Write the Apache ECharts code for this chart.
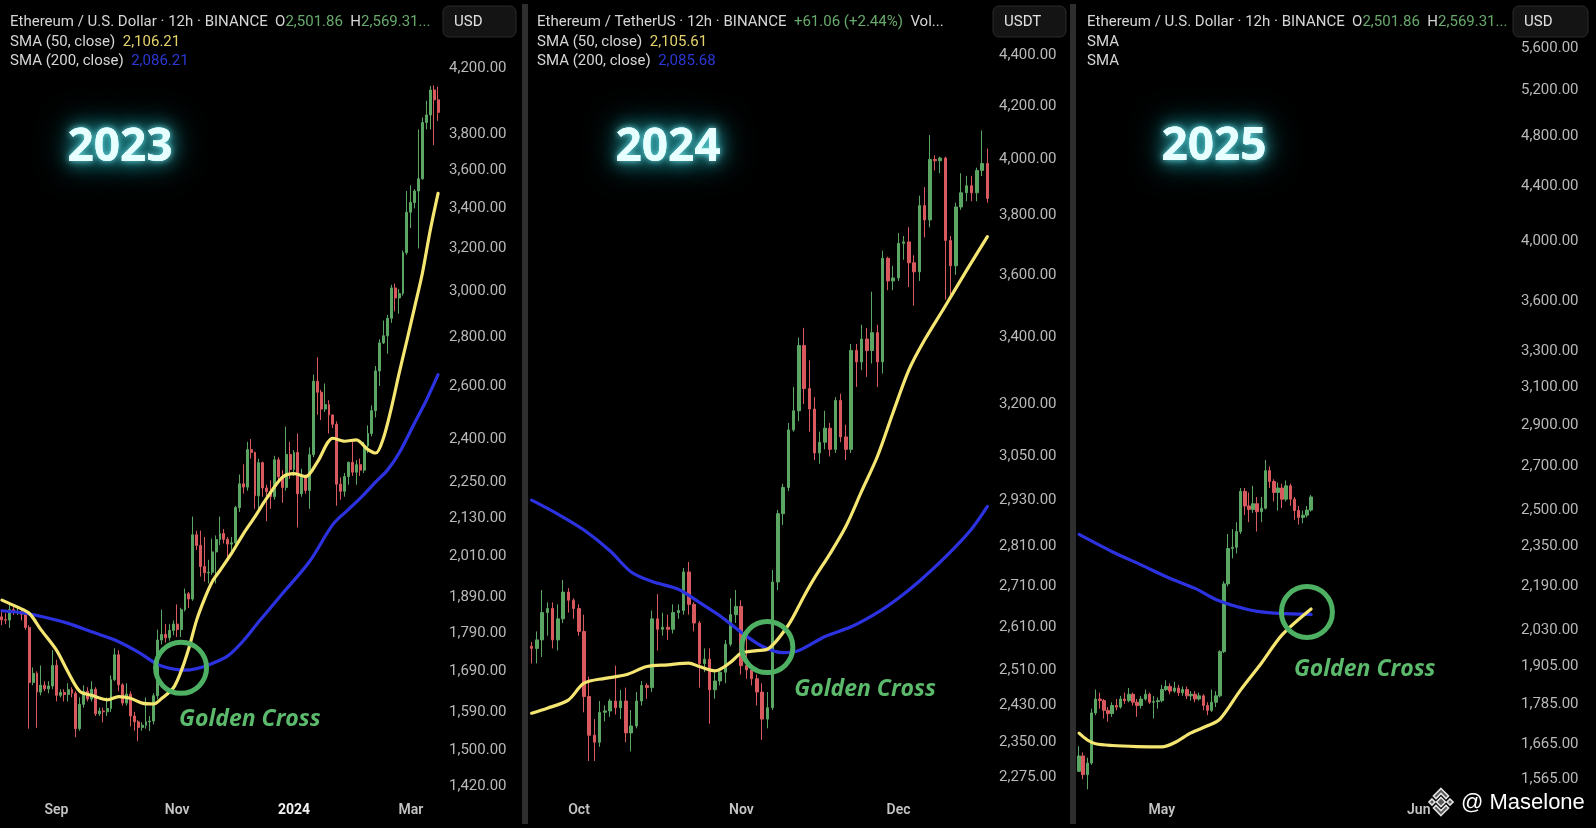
<!DOCTYPE html>
<html><head><meta charset="utf-8">
<script src="https://cdn.jsdelivr.net/npm/echarts@6/dist/echarts.min.js"></script>
<style>html,body{margin:0;padding:0;background:#000;}#c{width:1596px;height:828px;}</style>
</head><body><div id="c"></div>
<script>
// ---------- DATA ----------
// Panel 1 (2023-24): 2-day candles from 2023-08-03, [open, close, low, high]
const p1Start = '2023-08-03', p1StepH = 48, p1Count = 113;
const p1Candles = [
[1835,1827,1812,1855],[1827,1826,1815,1845],[1826,1855,1805,1870],[1855,1850,1840,1870],[1850,1850,1840,1860],
[1850,1842,1825,1860],[1842,1806,1800,1845],[1806,1662,1550,1812],[1662,1685,1655,1700],[1685,1638,1552,1690],
[1638,1655,1630,1705],[1655,1646,1640,1665],[1646,1653,1635,1665],[1653,1705,1645,1745],[1705,1630,1615,1720],
[1630,1637,1625,1645],[1637,1632,1615,1645],[1632,1644,1615,1660],[1644,1635,1625,1650],[1635,1550,1530,1640],
[1550,1608,1545,1625],[1608,1640,1600,1655],[1640,1621,1615,1650],[1621,1645,1615,1665],[1645,1585,1580,1650],
[1585,1592,1580,1600],[1592,1590,1565,1600],[1590,1598,1580,1625],[1598,1669,1590,1680],[1669,1733,1665,1750],
[1733,1656,1640,1745],[1656,1611,1605,1660],[1611,1633,1605,1660],[1633,1580,1555,1640],[1580,1566,1545,1590],
[1566,1553,1521,1570],[1553,1558,1545,1565],[1558,1566,1550,1625],[1566,1568,1545,1580],[1568,1629,1560,1635],
[1629,1772,1620,1800],[1772,1787,1760,1855],[1787,1778,1765,1815],[1778,1798,1770,1815],[1798,1815,1785,1825],
[1815,1800,1780,1870],[1800,1855,1780,1860],[1855,1900,1850,1915],[1900,1885,1860,1905],[1885,2077,1880,2135],
[2077,2044,2030,2090],[2044,1980,1950,2090],[1980,1961,1935,2070],[1961,1963,1930,2000],[1963,2024,1955,2065],
[2024,2062,1930,2075],[2062,2081,2045,2135],[2081,2063,2050,2095],[2063,2048,2000,2070],[2048,2052,2020,2070],
[2052,2164,2045,2170],[2164,2243,2150,2275],[2243,2232,2210,2310],[2232,2362,2220,2390],[2362,2352,2330,2400],
[2352,2203,2160,2355],[2203,2316,2150,2330],[2316,2229,2200,2320],[2229,2217,2120,2240],[2217,2200,2160,2255],
[2200,2326,2190,2340],[2326,2267,2250,2335],[2267,2231,2180,2290],[2231,2345,2220,2445],[2345,2292,2260,2390],
[2292,2352,2270,2360],[2352,2210,2100,2420],[2210,2268,2200,2295],[2268,2221,2210,2275],[2221,2344,2160,2370],
[2344,2619,2335,2645],[2619,2576,2490,2715],[2576,2511,2470,2585],[2511,2528,2500,2610],[2528,2489,2420,2545],
[2489,2454,2440,2490],[2454,2242,2170,2465],[2242,2218,2190,2265],[2218,2268,2200,2280],[2268,2317,2240,2320],
[2317,2283,2270,2390],[2283,2309,2240,2325],[2309,2290,2270,2330],[2290,2375,2280,2390],[2375,2420,2350,2450],
[2420,2505,2410,2525],[2505,2660,2480,2680],[2660,2775,2600,2790],[2775,2805,2770,2870],[2805,2880,2730,2895],
[2880,3015,2860,3030],[3015,2970,2910,3035],[2970,2990,2900,3010],[2990,3180,2980,3190],[3180,3380,3170,3490],
[3380,3430,3300,3520],[3430,3490,3400,3500],[3490,3555,3200,3830],[3555,3870,3550,3900],[3870,3915,3830,4000],
[3915,4065,3830,4090],[4065,4005,3740,4093],[4005,3930,3880,4085]
];
const p1Sma50 = [[0,1882],[4,1862],[7,1845],[10,1800],[14,1745],[17,1688],[20,1640],[23,1630],[27,1619],[30,1627],[33,1623],[36,1611],[39,1609],[41,1622],[44,1648],[46,1690],[48,1750],[50,1826],[52,1885],[54,1935],[56,1968],[59,2020],[62,2080],[65,2135],[68,2195],[72,2265],[75,2278],[78,2268],[81,2318],[85,2403],[88,2392],[91,2397],[94,2362],[96,2350],[98,2405],[100,2515],[102,2650],[104,2785],[106,2930],[108,3085],[110,3290],[112,3478]];
const p1Sma200 = [[0,1852],[6,1845],[11,1834],[17,1817],[23,1794],[29,1772],[35,1740],[40,1708],[44,1696],[47,1693],[50,1697],[53,1706],[58,1730],[62,1770],[66,1822],[72,1900],[79,1995],[85,2110],[89,2158],[93,2208],[96,2250],[99,2290],[102,2350],[106,2460],[109,2545],[112,2645]];
const p1Cross = [46, 1699];
const p1YTicks = [4200,3800,3600,3400,3200,3000,2800,2600,2400,2250,2130,2010,1890,1790,1690,1590,1500,1420];
const p1XTicks = [['2023-08-31','Sep'],['2023-11-01','Nov'],['2023-12-31','2024'],['2024-02-29','Mar']];

// Panel 2 (2024): daily candles from 2024-09-21
const p2Start = '2024-09-21', p2StepH = 24, p2Count = 88;
const p2Candles = [
[2565,2560,2525,2575],[2560,2580,2525,2600],[2580,2645,2540,2700],[2645,2655,2590,2670],[2655,2580,2560,2670],
[2580,2630,2555,2665],[2630,2695,2620,2725],[2695,2675,2645,2705],[2675,2655,2630,2680],[2655,2600,2590,2665],
[2600,2450,2415,2640],[2450,2365,2310,2495],[2365,2350,2310,2400],[2350,2415,2340,2440],[2415,2418,2395,2430],
[2418,2440,2405,2445],[2440,2425,2410,2520],[2425,2440,2400,2465],[2440,2370,2350,2470],[2370,2385,2330,2420],
[2385,2440,2380,2460],[2440,2475,2430,2485],[2475,2470,2445,2480],[2470,2630,2460,2650],[2630,2605,2555,2690],
[2605,2610,2590,2645],[2610,2605,2580,2640],[2605,2645,2595,2665],[2645,2650,2630,2665],[2650,2745,2640,2755],
[2745,2665,2640,2770],[2665,2620,2600,2670],[2620,2525,2470,2625],[2525,2535,2505,2560],[2535,2465,2390,2560],
[2465,2485,2445,2505],[2485,2505,2475,2510],[2505,2570,2480,2580],[2570,2640,2565,2680],[2640,2660,2620,2700],
[2660,2520,2500,2675],[2520,2510,2490,2590],[2510,2490,2475,2520],[2490,2460,2430,2500],[2460,2400,2355,2480],
[2400,2425,2380,2460],[2425,2720,2420,2750],[2720,2895,2700,2905],[2895,2965,2865,2975],[2965,3125,2955,3145],
[3125,3180,3120,3250],[3180,3375,3150,3400],[3375,3245,3200,3430],[3245,3185,3120,3330],[3185,3060,3040,3220],
[3060,3090,3030,3120],[3090,3130,3070,3180],[3130,3070,3050,3145],[3070,3210,3060,3220],[3210,3105,3090,3230],
[3105,3070,3040,3140],[3070,3360,3060,3380],[3360,3325,3250,3380],[3325,3395,3300,3440],[3395,3360,3280,3430],
[3360,3415,3320,3545],[3415,3325,3250,3440],[3325,3655,3290,3680],[3655,3580,3550,3660],[3580,3590,3550,3630],
[3590,3705,3580,3740],[3705,3710,3650,3730],[3710,3640,3560,3760],[3640,3610,3500,3665],[3610,3835,3580,3870],
[3835,3785,3725,3900],[3785,4000,3760,4090],[4000,3995,3960,4015],[3995,4005,3950,4010],[4005,3715,3520,4010],
[3715,3630,3520,3730],[3630,3830,3600,3845],[3830,3880,3820,3950],[3880,3905,3850,3940],[3905,3880,3850,3940],
[3880,3960,3850,3970],[3960,3985,3940,4107],[3985,3860,3845,4040]
];
const p2Sma50 = [[0,2413],[3,2424],[7,2442],[10,2480],[14,2491],[18,2499],[22,2518],[26,2522],[30,2526],[32,2518],[35,2508],[38,2528],[40,2549],[43,2555],[45,2558],[49,2615],[52,2685],[54,2730],[57,2792],[60,2862],[63,2955],[66,3050],[69,3175],[72,3300],[75,3392],[79,3500],[83,3614],[87,3728]];
const p2Sma200 = [[0,2931],[5,2894],[10,2852],[15,2798],[19,2745],[23,2721],[28,2702],[32,2670],[36,2637],[40,2598],[44,2565],[48,2550],[51,2555],[56,2588],[61,2611],[66,2645],[70,2680],[74,2722],[79,2783],[84,2855],[87,2914]];
const p2Cross = [45, 2563];
const p2YTicks = [4400,4200,4000,3800,3600,3400,3200,3050,2930,2810,2710,2610,2510,2430,2350,2275];
const p2XTicks = [['2024-10-01','Oct'],['2024-11-01','Nov'],['2024-12-01','Dec']];

// Panel 3 (2025): 12h candles from 2025-04-21 00:00
const p3Start = '2025-04-21', p3StepH = 12, p3Count = 105;
const p3Candles = [
[1587,1630,1585,1658],[1630,1578,1565,1640],[1578,1610,1538,1625],[1610,1757,1605,1770],[1757,1800,1750,1830],
[1800,1795,1770,1820],[1795,1765,1740,1800],[1765,1755,1730,1775],[1755,1780,1745,1790],[1780,1775,1765,1800],
[1775,1800,1770,1810],[1800,1795,1785,1820],[1795,1815,1790,1835],[1815,1790,1780,1820],[1790,1780,1745,1800],
[1780,1800,1770,1810],[1800,1815,1795,1830],[1815,1790,1785,1820],[1790,1792,1740,1810],[1792,1795,1770,1805],
[1795,1830,1790,1845],[1830,1840,1825,1860],[1840,1825,1815,1850],[1825,1835,1820,1855],[1835,1820,1810,1845],
[1820,1830,1810,1840],[1830,1810,1800,1840],[1810,1815,1795,1825],[1815,1800,1790,1825],[1800,1810,1795,1820],
[1810,1780,1765,1815],[1780,1765,1750,1790],[1765,1790,1760,1830],[1790,1810,1775,1825],[1810,1955,1805,1960],
[1955,2200,1950,2210],[2200,2340,2190,2400],[2340,2345,2300,2420],[2345,2410,2320,2450],[2410,2585,2400,2600],
[2585,2520,2480,2600],[2520,2505,2450,2580],[2505,2530,2490,2610],[2530,2495,2410,2560],[2495,2510,2450,2560],
[2510,2680,2505,2730],[2680,2630,2600,2700],[2630,2580,2540,2640],[2580,2600,2500,2625],[2600,2550,2510,2620],
[2550,2610,2540,2635],[2610,2550,2520,2620],[2550,2500,2460,2560],[2500,2470,2440,2520],[2470,2480,2445,2500],
[2480,2502,2470,2520],[2502,2560,2495,2569]
];
const p3Sma50 = [[0,1696],[2,1676],[4,1665],[8,1660],[14,1657],[20,1656],[23,1668],[27,1697],[31,1718],[34,1738],[39,1829],[44,1916],[49,2013],[56,2106]];
const p3Sma200 = [[0,2398],[8,2327],[15,2274],[22,2221],[28,2183],[33,2141],[38,2115],[43,2097],[48,2090],[56,2086]];
const p3Cross = [55, 2095];
const p3YTicks = [5600,5200,4800,4400,4000,3600,3300,3100,2900,2700,2500,2350,2190,2030,1905,1785,1665,1565];
const p3XTicks = [['2025-05-01 00:00','May'],['2025-06-01 00:00','Jun']];

// ---------- HELPERS ----------
function makeCats(start, stepH, n, withHour) {
  const p = start.split('-').map(Number);
  const t0 = Date.UTC(p[0], p[1] - 1, p[2]);
  const out = [];
  for (let i = 0; i < n; i++) {
    const d = new Date(t0 + i * stepH * 3600e3);
    let s = d.toISOString().slice(0, 10);
    if (withHour) s += ' ' + d.toISOString().slice(11, 16);
    out.push(s);
  }
  return out;
}
const cats1 = makeCats(p1Start, p1StepH, p1Count, false);
const cats2 = makeCats(p2Start, p2StepH, p2Count, false);
const cats3 = makeCats(p3Start, p3StepH, p3Count, true);

const UP = '#5ca664', DOWN = '#d8595e';
const YEL = '#f5e672', BLU = '#2d32e0', GC = '#4eb063', GCT = '#5cba6c';
const FONT = 'Roboto';

function fmtPrice(v) {
  const r = Math.round(v * 100) / 100;
  return r.toLocaleString('en-US', {minimumFractionDigits: 2, maximumFractionDigits: 2});
}
function xAxisCfg(i, cats, ticks, pad) {
  const m = {}; ticks.forEach(t => { m[t[0]] = t[1]; });
  return {
    type: 'category', gridIndex: i, data: cats, boundaryGap: true,
    axisLine: {show: false}, axisTick: {show: false}, splitLine: {show: false},
    axisLabel: {
      interval: (idx, val) => m[val] !== undefined,
      formatter: val => m[val] === '2024' ? '{y|2024}' : '{m|' + (m[val] || '') + '}',
      margin: 8, padding: pad || 0,
      rich: {
        m: {color: '#c4c4c4', fontSize: 14, fontWeight: 600, fontFamily: FONT},
        y: {color: '#f2f2f2', fontSize: 14, fontWeight: 'bold', fontFamily: FONT}
      }
    }
  };
}
function yAxisCfg(i, min, max, ticks) {
  return {
    type: 'log', logBase: 10, gridIndex: i, position: 'right', min: min, max: max,
    axisLine: {show: false}, axisTick: {show: false}, splitLine: {show: false},
    axisLabel: {customValues: ticks, formatter: v => fmtPrice(v), color: '#b9b9b9',
      fontSize: 15, fontFamily: FONT, margin: 9}
  };
}
function candle(i, data, bw) {
  return {type: 'candlestick', xAxisIndex: i, yAxisIndex: i, data: data, barWidth: bw, z: 2,
    silent: true, animation: false,
    itemStyle: {color: UP, color0: DOWN, borderColor: UP, borderColor0: DOWN, borderWidth: 1}};
}
function sma(i, data, color, z, cross, off) {
  const s = {type: 'line', xAxisIndex: i, yAxisIndex: i, data: data, smooth: 0.3,
    showSymbol: false, symbol: 'none', z: z, silent: true, animation: false,
    lineStyle: {color: color, width: 3.2, cap: 'round', join: 'round'}};
  if (cross) {
    s.markPoint = {silent: true, animation: false, data: [{
      coord: cross, symbol: 'circle', symbolSize: 51,
      itemStyle: {color: 'rgba(0,0,0,0)', borderColor: GC, borderWidth: 5},
      label: {show: true, formatter: 'Golden Cross', position: 'inside', offset: off,
        align: 'left', verticalAlign: 'middle', color: GCT, fontSize: 23,
        fontWeight: 'bold', fontStyle: 'italic', fontFamily: 'Open Sans'}
    }]};
  }
  return s;
}

// ---------- GRAPHICS ----------
const hdrRich = {
  a: {fill: '#d6d6d6', fontSize: 15, fontFamily: FONT},
  g: {fill: '#67a96b', fontSize: 15, fontFamily: FONT},
  y: {fill: '#e3d16a', fontSize: 15, fontFamily: FONT},
  b: {fill: '#2b38d4', fontSize: 15, fontFamily: FONT}
};
function hdr(x, y, text) {
  return {type: 'text', x: x, y: y, silent: true, z: 20,
    style: {text: text, rich: hdrRich, fill: '#d6d6d6', font: '15px ' + FONT,
      align: 'left', verticalAlign: 'middle', textAlign: 'left', textVerticalAlign: 'middle'}};
}
function box(x, w, label) {
  return [
    {type: 'rect', shape: {x: x, y: 6, width: w, height: 31, r: 6}, silent: true, z: 20,
      style: {fill: '#141414', stroke: '#2b2b2b', lineWidth: 1}},
    {type: 'text', x: x + 11, y: 22, silent: true, z: 21,
      style: {text: label, fill: '#e2e2e2', font: '15px ' + FONT, align: 'left', verticalAlign: 'middle',
        textAlign: 'left', textVerticalAlign: 'middle'}}
  ];
}
function year(x, y, t) {
  const base = {text: t, font: 'bold 46px "Open Sans"', align: 'center', verticalAlign: 'middle',
    textAlign: 'center', textVerticalAlign: 'middle'};
  return [
    {type: 'text', x: x, y: y, silent: true, z: 17,
      style: Object.assign({}, base, {fill: '#dffcff', textShadowBlur: 34, textShadowColor: 'rgba(40,190,200,1)'})},
    {type: 'text', x: x, y: y, silent: true, z: 18,
      style: Object.assign({}, base, {fill: '#dffcff', textShadowBlur: 18, textShadowColor: 'rgba(50,200,210,0.95)'})},
    {type: 'text', x: x, y: y, silent: true, z: 19,
      style: Object.assign({}, base, {fill: '#e8ffff', textShadowBlur: 6, textShadowColor: 'rgba(120,232,236,0.9)'})}
  ];
}
function logo(cx, cy) {
  const st = {fill: '#5a5a5a', stroke: '#e4e4e4', lineWidth: 1.6};
  const polys = [
    [[0,-4.5],[4.5,0],[0,4.5],[-4.5,0]],
    [[-9,-3],[-6,0],[-9,3],[-12,0]],
    [[9,-3],[12,0],[9,3],[6,0]],
    [[0,-13.5],[7.5,-6],[5,-3.5],[0,-8.5],[-5,-3.5],[-7.5,-6]],
    [[0,13.5],[7.5,6],[5,3.5],[0,8.5],[-5,3.5],[-7.5,6]]
  ];
  return {type: 'group', x: cx, y: cy, z: 30, silent: true,
    children: polys.map(p => ({type: 'polygon', shape: {points: p}, style: st}))};
}

const graphics = [].concat(
  [{type: 'rect', shape: {x: 522, y: 4, width: 6, height: 820}, style: {fill: '#2e2e2e'}, silent: true, z: 15},
   {type: 'rect', shape: {x: 1070, y: 4, width: 6, height: 820}, style: {fill: '#2e2e2e'}, silent: true, z: 15}],
  box(443, 73, 'USD'), box(993, 73, 'USDT'), box(1513, 75, 'USD'),
  [hdr(10, 22, '{a|Ethereum / U.S. Dollar · 12h · BINANCE  O}{g|2,501.86}{a|  H}{g|2,569.31...}'),
   hdr(10, 42, '{a|SMA (50, close)  }{y|2,106.21}'),
   hdr(10, 61, '{a|SMA (200, close)  }{b|2,086.21}'),
   hdr(537, 22, '{a|Ethereum / TetherUS · 12h · BINANCE  }{g|+61.06 (+2.44%)}{a|  Vol...}'),
   hdr(537, 42, '{a|SMA (50, close)  }{y|2,105.61}'),
   hdr(537, 61, '{a|SMA (200, close)  }{b|2,085.68}'),
   hdr(1087, 22, '{a|Ethereum / U.S. Dollar · 12h · BINANCE  O}{g|2,501.86}{a|  H}{g|2,569.31...}'),
   hdr(1087, 42, '{a|SMA}'),
   hdr(1087, 61, '{a|SMA}')],
  year(120, 148, '2023'), year(668, 148, '2024'), year(1214, 147, '2025'),
  [logo(1441, 802),
   {type: 'text', x: 1461, y: 803, silent: true, z: 30,
    style: {text: '@ Maselone', fill: '#ffffff', font: '22px "Liberation Sans"', align: 'left', verticalAlign: 'middle',
      textAlign: 'left', textVerticalAlign: 'middle', textShadowBlur: 3, textShadowColor: 'rgba(0,0,0,0.9)'}}]
);

// ---------- CHART ----------
const chart = echarts.init(document.getElementById('c'), null, {renderer: 'canvas'});
chart.setOption({
  backgroundColor: '#000000',
  animation: false,
  grid: [
    {left: 0, top: 0, width: 440, height: 795},
    {left: 529, top: 0, width: 461, height: 795},
    {left: 1077, top: 0, width: 435, height: 795}
  ],
  xAxis: [xAxisCfg(0, cats1, p1XTicks), xAxisCfg(1, cats2, p2XTicks, [0, 10, 0, 0]), xAxisCfg(2, cats3, p3XTicks)],
  yAxis: [yAxisCfg(0, 1402.3, 4656.6, p1YTicks), yAxisCfg(1, 2239.4, 4626.5, p2YTicks), yAxisCfg(2, 1522.8, 6086.5, p3YTicks)],
  series: [
    candle(0, p1Candles, 2.4), sma(0, p1Sma200, BLU, 3), sma(0, p1Sma50, YEL, 4, p1Cross, [-2, 52]),
    candle(1, p2Candles, 3), sma(1, p2Sma200, BLU, 3), sma(1, p2Sma50, YEL, 4, p2Cross, [27, 42]),
    candle(2, p3Candles, 3), sma(2, p3Sma200, BLU, 3), sma(2, p3Sma50, YEL, 4, p3Cross, [-13, 57])
  ],
  graphic: {elements: graphics}
});
</script></body></html>
